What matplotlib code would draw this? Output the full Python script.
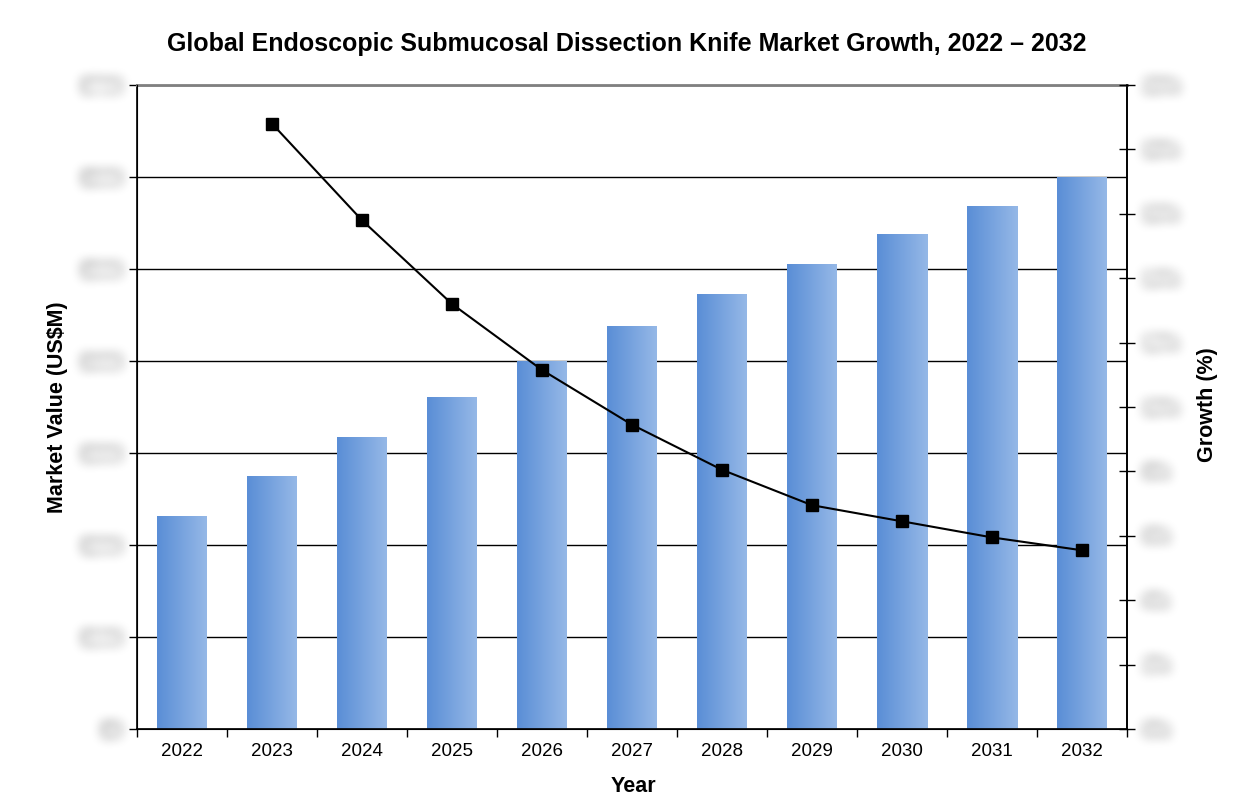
import numpy as np
import matplotlib
matplotlib.use("Agg")
import matplotlib.pyplot as plt
from matplotlib.colors import LinearSegmentedColormap

plt.rcParams['font.family'] = ['Liberation Sans', 'DejaVu Sans']

# data
years = ['2022', '2023', '2024', '2025', '2026', '2027', '2028', '2029', '2030', '2031', '2032']
market_value = [231, 274, 317, 360, 399, 437, 472, 505, 537, 568, 599]
growth_years = years[1:]
growth = [18.8, 15.8, 13.2, 11.15, 9.45, 8.05, 6.95, 6.45, 5.95, 5.55]
left_labels = ['$0', '$100', '$200', '$300', '$400', '$500', '$600', '$700']
right_labels = ['0%', '2%', '4%', '6%', '8%', '10%', '12%', '14%', '16%', '18%', '20%']


def blur(img, dpi, r=5):
    # simple box blur, applied a few times (rough gaussian)
    pad = r * 3
    out = np.pad(img, ((pad, pad), (pad, pad), (0, 0)))
    k = np.ones(2 * r + 1) / (2 * r + 1)
    for _ in range(3):
        for ax_ in (0, 1):
            out = np.apply_along_axis(lambda m: np.convolve(m, k, mode='same'), ax_, out)
    return out, -pad, -pad


fig = plt.figure(figsize=(12.55, 8.09), dpi=100)
ax = fig.add_axes([137 / 1255, 1 - 729 / 809, 990 / 1255, 644 / 809])
ax2 = ax.twinx()

x = np.arange(len(years))
cmap = LinearSegmentedColormap.from_list('bar', ['#5a8ed6', '#95b8e7'])
grad = np.linspace(0, 1, 64).reshape(1, -1)
bw = 50 / 90
for xi, v in zip(x, market_value):
    ax.imshow(grad, cmap=cmap, aspect='auto', extent=[xi - bw / 2, xi + bw / 2, 0, v],
              zorder=2, interpolation='bilinear')

ax.set_xlim(-0.5, len(years) - 0.5)
ax.set_ylim(0, 700)
ax.set_yticks(range(0, 701, 100))
ax.set_yticklabels(left_labels, fontsize=13, color='#a8a8a8')
for t in ax.get_yticklabels():
    t.set_agg_filter(blur)
ax.set_axisbelow(True)
ax.yaxis.grid(True, color='black', lw=1)
ax.set_xticks(np.arange(-0.5, len(years), 1))
ax.set_xticklabels([])
ax.set_xticks(x, minor=True)
ax.set_xticklabels(years, minor=True, fontsize=13.5)
ax.tick_params(axis='x', which='major', direction='out', length=6, width=1)
ax.tick_params(axis='x', which='minor', length=0, pad=10)
ax.tick_params(axis='y', direction='out', length=6, width=1, pad=5)
ax.spines['top'].set_color('#808080')
ax.spines['top'].set_linewidth(2)
for s in ('left', 'bottom', 'right'):
    ax.spines[s].set_linewidth(1.2)

ax2.plot(x[1:], growth, color='black', lw=1.5, marker='s', markersize=8, zorder=5)
ax2.set_ylim(0, 20)
ax2.set_yticks(range(0, 21, 2))
ax2.set_yticklabels(right_labels, fontsize=13, color='#a8a8a8')
for t in ax2.get_yticklabels():
    t.set_agg_filter(blur)
ax2.tick_params(axis='y', direction='inout', length=11, width=1, pad=6)
ax2.spines['top'].set_visible(False)
ax2.spines['right'].set_linewidth(1.2)
ax.set_zorder(1)
ax2.set_zorder(2)
ax2.patch.set_visible(False)

fig.text(627 / 1255, 1 - 44 / 809, 'Global Endoscopic Submucosal Dissection Knife Market Growth, 2022 \u2013 2032',
         ha='center', va='center', fontsize=18, fontweight='bold')
fig.text(58 / 1255, 1 - 407 / 809, 'Market Value (US$M)', rotation=90, ha='center', va='center',
         fontsize=15.5, fontweight='bold')
fig.text(1207 / 1255, 1 - 405 / 809, 'Growth (%)', rotation=90, ha='center', va='center',
         fontsize=15.5, fontweight='bold')
fig.text(633 / 1255, 1 - 787 / 809, 'Year', ha='center', va='center', fontsize=15.5, fontweight='bold')

fig.savefig('out.png', dpi=100)
